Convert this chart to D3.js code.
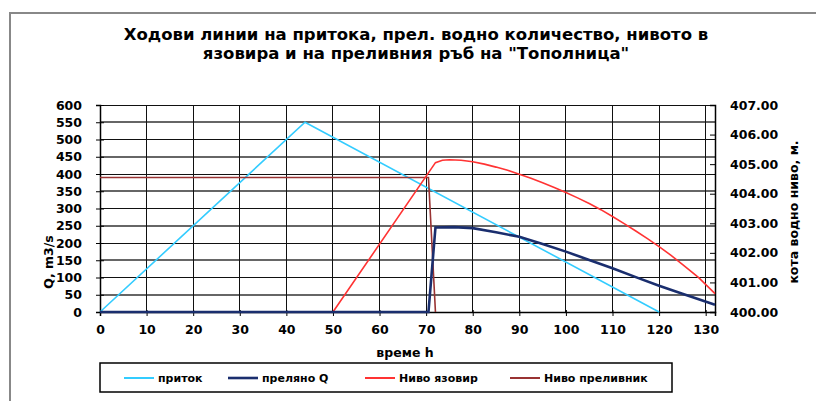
<!DOCTYPE html>
<html><head><meta charset="utf-8">
<script src="https://cdn.jsdelivr.net/npm/d3@7"></script>
<style>
html,body{margin:0;padding:0;background:#fff;}
svg text{font-family:"DejaVu Sans","Liberation Sans",Arial,sans-serif;font-weight:bold;fill:#000;}
</style></head>
<body><svg id="c" width="816" height="401"></svg>
<script>
// ---- data ----
const titleLines = ["Ходови линии на притока, прел. водно количество, нивото в", "язовира и на преливния ръб на \"Тополница\""];
const seriesNames = ["приток", "преляно Q", "Ниво язовир", "Ниво преливник"];
// inflow (left axis, m3/s)
const inflowT = [0, 44, 120];
const inflowQ = [0, 550, 0];
// spilled discharge (left axis)
const spillT = [0, 70.5, 72, 76, 80, 85, 90, 95, 100, 105, 110, 115, 120, 125, 132];
const spillQ = [0, 0, 245, 246, 243, 231, 218, 197, 175, 151, 127, 101, 76, 53, 21];
// reservoir level (right axis)
const resT = [50, 72, 73.5, 75, 77.5, 80, 82.5, 85, 87.5, 90, 92.5, 95, 97.5, 100, 102.5, 105, 107.5, 110, 112.5, 115, 117.5, 120, 122.5, 125, 128.5, 132];
const resH = [400.0, 405.05, 405.13, 405.15, 405.13, 405.08, 405.0, 404.9, 404.79, 404.66, 404.52, 404.37, 404.21, 404.04, 403.86, 403.67, 403.46, 403.23, 402.99, 402.74, 402.48, 402.21, 401.92, 401.61, 401.16, 400.62];
// spillway crest level (right axis)
const crestT = [0, 70.5, 72];
const crestH = [404.55, 404.55, 400.0];
const xTicks = [0, 10, 20, 30, 40, 50, 60, 70, 80, 90, 100, 110, 120, 130];
const yLeftTicks = [0, 50, 100, 150, 200, 250, 300, 350, 400, 450, 500, 550, 600];
const yRightTicks = [400, 401, 402, 403, 404, 405, 406, 407];
const xLabel = "време h";
const yLeftLabel = "Q, m3/s";
const yRightLabel = "кота водно ниво, м.";

const svg = d3.select("#c");
// outer frame
svg.append("rect").attr("x", 10).attr("y", 13).attr("width", 830).attr("height", 420)
  .attr("fill", "none").attr("stroke", "#888").attr("stroke-width", 2);

const x = d3.scaleLinear().domain([0, 132]).range([100, 715]);
const yL = d3.scaleLinear().domain([0, 600]).range([312, 105]);
const yR = d3.scaleLinear().domain([400, 407]).range([312, 105]);

// title
svg.append("g").selectAll("text").data(titleLines).join("text")
  .attr("x", 416).attr("y", (d, i) => 40 + i * 18.5)
  .attr("text-anchor", "middle").attr("font-size", 16.5)
  .text(d => d);

// gridlines
const grid = svg.append("g").attr("shape-rendering", "crispEdges");
grid.selectAll(".hg").data(yLeftTicks).join("line")
  .attr("x1", x(0)).attr("x2", x(132)).attr("y1", d => yL(d)).attr("y2", d => yL(d))
  .attr("stroke", (d, i) => i % 2 ? "#666" : "#111").attr("stroke-width", (d, i) => i % 2 ? 2 : 1);
grid.selectAll(".vg").data(xTicks.slice(1)).join("line")
  .attr("x1", d => x(d)).attr("x2", d => x(d)).attr("y1", yL(600)).attr("y2", yL(0))
  .attr("stroke", "#111").attr("stroke-width", 1);

// axes
const axL = svg.append("g").attr("transform", `translate(${x(0)},0)`)
  .call(d3.axisLeft(yL).tickValues(yLeftTicks).tickSize(4).tickPadding(14));
const axB = svg.append("g").attr("transform", `translate(0,${yL(0)})`)
  .call(d3.axisBottom(x).tickValues(xTicks).tickSize(4).tickPadding(9));
const axR = svg.append("g").attr("transform", `translate(${x(132)},0)`)
  .call(d3.axisRight(yR).tickValues(yRightTicks).tickSize(-5).tickPadding(15).tickFormat(d3.format(".2f")));
[axL, axB, axR].forEach(a => {
  a.selectAll("path").attr("stroke", "#000").attr("stroke-width", 1.5);
  a.selectAll("line").attr("stroke", "#000");
  a.selectAll("text").attr("font-size", 12.5).attr("font-family", "DejaVu Sans").attr("font-weight", "bold");
});
axL.selectAll(".tick line").attr("x2", 4).attr("x1", -4);
axB.selectAll(".tick line").attr("y1", -2).attr("y2", 4);

// lines
const plot = svg.append("g");
const lineL = d3.line().x(d => x(d[0])).y(d => yL(d[1]));
const lineR = d3.line().x(d => x(d[0])).y(d => yR(d[1]));
plot.append("path").datum(inflowT.map((t, i) => [t, inflowQ[i]])).attr("d", lineL)
  .attr("fill", "none").attr("stroke", "#33CCFF").attr("stroke-width", 1.6);
plot.append("path").datum(crestT.map((t, i) => [t, crestH[i]])).attr("d", lineR)
  .attr("fill", "none").attr("stroke", "#993333").attr("stroke-width", 1.6);
plot.append("path").datum(resT.map((t, i) => [t, resH[i]])).attr("d", lineR)
  .attr("fill", "none").attr("stroke", "#FF3333").attr("stroke-width", 1.6);
plot.append("path").datum(spillT.map((t, i) => [t, spillQ[i]])).attr("d", lineL)
  .attr("fill", "none").attr("stroke", "#1A2E6E").attr("stroke-width", 2.6);

// axis titles
svg.append("text").attr("x", 405).attr("y", 357).attr("text-anchor", "middle").attr("font-size", 12.5).text(xLabel);
svg.append("text").attr("transform", "translate(53,262) rotate(-90)").attr("text-anchor", "middle").attr("font-size", 12.5).text(yLeftLabel);
svg.append("text").attr("transform", "translate(798,212) rotate(-90)").attr("text-anchor", "middle").attr("font-size", 12.5).text(yRightLabel);

// legend
const lg = svg.append("g");
lg.append("rect").attr("x", 100).attr("y", 363).attr("width", 572).attr("height", 29)
  .attr("fill", "#fff").attr("stroke", "#000").attr("stroke-width", 1.5);
const legColors = ["#33CCFF", "#1A2E6E", "#FF3333", "#993333"];
const legX = [124, 228, 365, 510];
const items = lg.selectAll(".it").data(seriesNames).join("g")
  .attr("transform", (d, i) => `translate(${legX[i]},378)`);
items.append("line").attr("x1", 0).attr("x2", 30).attr("stroke", (d, i) => legColors[i]).attr("stroke-width", (d, i) => i === 1 ? 2.6 : 2);
items.append("text").attr("x", 34).attr("y", 4).attr("font-size", 11).text(d => d);
</script></body></html>
